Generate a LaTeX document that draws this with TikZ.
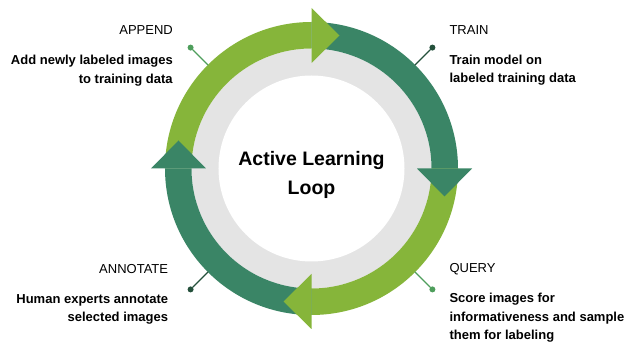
\documentclass[tikz,border=0pt]{standalone}
\usepackage{fontspec}
\setmainfont{Liberation Sans}
\usetikzlibrary{calc}
\definecolor{leaf}{HTML}{86B53A}
\definecolor{pine}{HTML}{3A8566}
\definecolor{leafdot}{HTML}{4E9E5C}
\definecolor{pinedot}{HTML}{24503B}
\definecolor{ringgray}{HTML}{E4E4E4}
\begin{document}
\begin{tikzpicture}[x=1pt,y=1pt,line join=round,line cap=round,
	stage/.style={inner sep=0pt,font=\fontsize{13}{18.5}\selectfont},
	pin/.style={circle,inner sep=0pt,minimum size=6pt}]
	\def\ri{120}
	\def\ro{146.5}
	\def\rm{133}
	\useasboundingbox (-311.5,-175.5) rectangle (316.5,168.5);
	\path (0,0) coordinate (O);
	\fill[ringgray] (O) circle (\ri);
	\fill[white] (O) circle (93);
	% ring segments, clockwise
	\foreach \a/\c in {180/leaf,90/pine,0/leaf,-90/pine}
	\fill[\c] (\a:\ro) arc (\a:\a-90:\ro) -- (\a-90:\ri) arc (\a-90:\a:\ri) -- cycle;
	% arrow heads on top of the next segment
	\foreach \a/\c in {90/leaf,0/pine,-90/leaf,180/pine}
	\fill[\c] (\a:105.5) -- (\a:160.5) -- ($(\a:\rm)+(\a-90:28)$) -- cycle;
	% pins
	\foreach \a/\c/\n in {135/leafdot/append,45/pinedot/train,-45/leafdot/query,-135/pinedot/annotate}
	{\path (\a:\ro) coordinate (\n-rim);
	\node[pin,fill=\c] (\n-pin) at (\a:171) {};
	\draw[\c,line width=1.4pt] (\n-rim) -- (\n-pin);
	}
	\node[font=\bfseries\fontsize{19.5}{29}\selectfont,align=center] (title) at (0,-6) {Active Learning\\Loop};
	% base anchor sits on the last line
	\node[stage,anchor=base east,align=right] (append) at (-138.5,85.2) {APPEND\\[11.5pt]\textbf{Add newly labeled images}\\\textbf{to training data}};
	\node[stage,anchor=base west,align=left] (train) at (137.8,85.5) {TRAIN\\[11.5pt]\textbf{Train model on}\\\textbf{labeled training data}};
	\node[stage,anchor=base west,align=left] (query) at (137.8,-171.5) {QUERY\\[11.5pt]\textbf{Score images for}\\\textbf{informativeness and sample}\\\textbf{them for labeling}};
	\node[stage,anchor=base east,align=right] (annotate) at (-143.2,-153.2) {ANNOTATE\\[11.5pt]\textbf{Human experts annotate}\\\textbf{selected images}};
\end{tikzpicture}
\end{document}
